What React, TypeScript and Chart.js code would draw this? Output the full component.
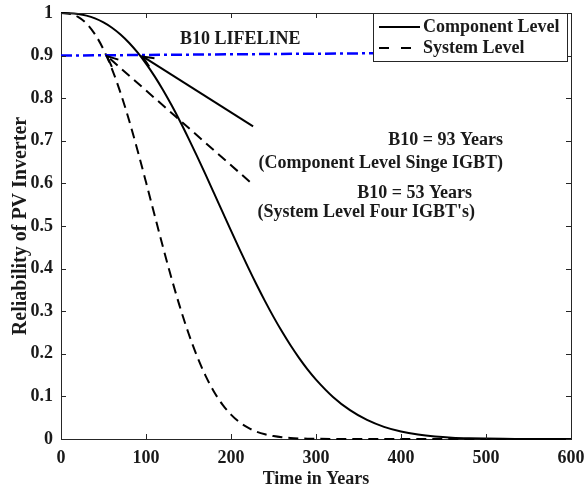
import React, { useEffect, useRef } from 'react';
import { Chart, registerables } from 'chart.js';

Chart.register(...registerables);

// ---- data ----
const years = [
  0, 10, 20, 30, 40, 50, 60, 70, 80, 90, 100, 110, 120, 130, 140, 150, 160, 170, 180, 190, 200,
  210, 220, 230, 240, 250, 260, 270, 280, 290, 300, 320, 340, 360, 380, 400, 420, 440, 460, 480,
  500, 520, 540, 560, 580, 600,
];
const componentLevel = [
  1, 0.9996, 0.9977, 0.9938, 0.9873, 0.9779, 0.9654, 0.9495, 0.9302, 0.9074, 0.8812, 0.8518,
  0.8192, 0.7838, 0.7459, 0.7058, 0.6641, 0.621, 0.5772, 0.5331, 0.4891, 0.4458, 0.4035, 0.3627,
  0.3237, 0.2867, 0.2521, 0.2199, 0.1904, 0.1635, 0.1394, 0.0987, 0.0676, 0.0447, 0.0285, 0.0175,
  0.0104, 0.0059, 0.0032, 0.0017, 0.0009, 0.0004, 0.0002, 0.0001, 0.00004, 0.00002,
];
const systemLevel = [
  1, 0.9984, 0.991, 0.9754, 0.9501, 0.9145, 0.8685, 0.8128, 0.7487, 0.678, 0.6031, 0.5264,
  0.4503, 0.3774, 0.3095, 0.2482, 0.1945, 0.1487, 0.111, 0.0808, 0.0572, 0.0395, 0.0265, 0.0173,
  0.011, 0.0068, 0.004, 0.0023, 0.0013, 0.0007, 0.0004, 0.0001, 0, 0, 0, 0, 0, 0, 0, 0, 0, 0, 0,
  0, 0, 0,
];
const b10LineX = [0, 369];
const b10LineY = [0.9, 0.9055];
const componentArrowX = [226, 96];
const componentArrowY = [0.734, 0.898];
const systemArrowX = [222, 54];
const systemArrowY = [0.604, 0.899];

const xTickValues = [0, 100, 200, 300, 400, 500, 600];
const yTickValues = [0, 0.1, 0.2, 0.3, 0.4, 0.5, 0.6, 0.7, 0.8, 0.9, 1];

const legendLabels = ['Component Level', 'System Level'];
const annotationTexts = [
  'B10 LIFELINE',
  'B10 = 93 Years',
  '(Component Level Singe IGBT)',
  'B10 = 53 Years',
  "(System Level Four IGBT's)",
];

const FONT = "'Liberation Serif', 'Times New Roman', serif";
const TEXT = '#1a1a1a';
const AXIS = '#262626';

function pts(xs: number[], ys: number[]) {
  return xs.map((x, i) => ({ x, y: ys[i] }));
}

const decorPlugin = {
  id: 'decor',
  afterDraw(chart: any) {
    const ctx = chart.ctx as CanvasRenderingContext2D;
    const xs = chart.scales.x;
    const ys = chart.scales.y;
    const { left, right, top, bottom } = chart.chartArea;
    ctx.save();

    // box + inward ticks
    ctx.strokeStyle = AXIS;
    ctx.lineWidth = 1;
    ctx.setLineDash([]);
    ctx.beginPath();
    ctx.moveTo(left, top + 0.5);
    ctx.lineTo(right + 0.5, top + 0.5);
    ctx.lineTo(right + 0.5, bottom);
    ctx.stroke();
    const tl = 5;
    ctx.beginPath();
    xTickValues.forEach((v) => {
      const px = Math.round(xs.getPixelForValue(v)) + 0.5;
      ctx.moveTo(px, bottom);
      ctx.lineTo(px, bottom - tl);
      ctx.moveTo(px, top);
      ctx.lineTo(px, top + tl);
    });
    yTickValues.forEach((v) => {
      const py = Math.round(ys.getPixelForValue(v)) + 0.5;
      ctx.moveTo(left, py);
      ctx.lineTo(left + tl, py);
      ctx.moveTo(right, py);
      ctx.lineTo(right - tl, py);
    });
    ctx.stroke();

    // arrowheads
    const head = (xArr: number[], yArr: number[]) => {
      const x0 = xs.getPixelForValue(xArr[0]);
      const y0 = ys.getPixelForValue(yArr[0]);
      const x1 = xs.getPixelForValue(xArr[1]);
      const y1 = ys.getPixelForValue(yArr[1]);
      const ang = Math.atan2(y0 - y1, x0 - x1);
      const len = 12;
      const spread = 0.42;
      ctx.strokeStyle = '#000';
      ctx.lineWidth = 2;
      ctx.setLineDash([]);
      ctx.beginPath();
      ctx.moveTo(x1 + len * Math.cos(ang + spread), y1 + len * Math.sin(ang + spread));
      ctx.lineTo(x1, y1);
      ctx.lineTo(x1 + len * Math.cos(ang - spread), y1 + len * Math.sin(ang - spread));
      ctx.stroke();
    };
    head(componentArrowX, componentArrowY);
    head(systemArrowX, systemArrowY);

    // annotation texts
    ctx.fillStyle = TEXT;
    ctx.font = `bold 18px ${FONT}`;
    ctx.textBaseline = 'middle';
    const txt = (s: string, xv: number, yv: number, align: CanvasTextAlign) => {
      ctx.textAlign = align;
      ctx.fillText(s, xs.getPixelForValue(xv), ys.getPixelForValue(yv));
    };
    txt(annotationTexts[0], 140, 0.937, 'left');
    txt(annotationTexts[1], 520, 0.702, 'right');
    txt(annotationTexts[2], 520, 0.648, 'right');
    txt(annotationTexts[3], 483.5, 0.577, 'right');
    txt(annotationTexts[4], 487, 0.531, 'right');

    // legend
    const lx = right - 198;
    const ly = top;
    const lw = 194;
    const lh = 48;
    ctx.fillStyle = '#fff';
    ctx.fillRect(lx, ly, lw, lh);
    ctx.strokeStyle = AXIS;
    ctx.lineWidth = 1;
    ctx.strokeRect(Math.round(lx) + 0.5, Math.round(ly) + 0.5, lw, lh);
    const rows = [ly + 14, ly + 35];
    rows.forEach((ry, i) => {
      ctx.strokeStyle = '#000';
      ctx.lineWidth = 2;
      ctx.setLineDash(i === 0 ? [] : [10, 12]);
      ctx.beginPath();
      ctx.moveTo(lx + 6, ry);
      ctx.lineTo(lx + 47, ry);
      ctx.stroke();
      ctx.setLineDash([]);
      ctx.fillStyle = TEXT;
      ctx.textAlign = 'left';
      ctx.fillText(legendLabels[i], lx + 50, ry);
    });
    ctx.restore();
  },
};

export default function App() {
  const ref = useRef<HTMLCanvasElement | null>(null);
  useEffect(() => {
    if (!ref.current) return;
    const chart = new Chart(ref.current, {
      type: 'line',
      data: {
        datasets: [
          {
            label: 'B10 LIFELINE',
            data: pts(b10LineX, b10LineY),
            borderColor: '#0000ff',
            borderWidth: 2.5,
            borderDash: [11, 4, 3, 4],
            pointRadius: 0,
            tension: 0,
          },
          {
            label: legendLabels[0],
            data: pts(years, componentLevel),
            borderColor: '#000',
            borderWidth: 2,
            pointRadius: 0,
            cubicInterpolationMode: 'monotone',
          },
          {
            label: legendLabels[1],
            data: pts(years, systemLevel),
            borderColor: '#000',
            borderWidth: 2,
            borderDash: [10, 6],
            pointRadius: 0,
            cubicInterpolationMode: 'monotone',
          },
          {
            label: 'arrow1',
            data: pts(componentArrowX, componentArrowY),
            borderColor: '#000',
            borderWidth: 2,
            pointRadius: 0,
            tension: 0,
          },
          {
            label: 'arrow2',
            data: pts(systemArrowX, systemArrowY),
            borderColor: '#000',
            borderWidth: 2,
            borderDash: [10, 6],
            pointRadius: 0,
            tension: 0,
          },
        ],
      },
      options: {
        responsive: false,
        animation: false,
        devicePixelRatio: 1,
        clip: false as any,
        layout: { padding: { top: 13, right: 13, left: 0, bottom: 0 } },
        plugins: { legend: { display: false }, tooltip: { enabled: false } },
        scales: {
          x: {
            type: 'linear',
            min: 0,
            max: 600,
            afterFit: (s: any) => {
              s.height = 52;
              s.paddingLeft = 0;
              s.paddingRight = 0;
            },
            afterBuildTicks: (s: any) => {
              s.ticks = xTickValues.map((v) => ({ value: v }));
            },
            grid: { display: false, drawTicks: false },
            border: { display: true, color: AXIS, width: 1 },
            ticks: {
              padding: 9,
              color: TEXT,
              font: { family: FONT, size: 18, weight: 'bold' },
              maxRotation: 0,
              callback: (v: any) => String(v),
            },
            title: {
              display: true,
              text: 'Time in Years',
              color: TEXT,
              font: { family: FONT, size: 18, weight: 'bold' },
              padding: { top: 0, bottom: 1 },
            },
          },
          y: {
            type: 'linear',
            min: 0,
            max: 1,
            afterFit: (s: any) => {
              s.width = 61;
              s.paddingTop = 0;
              s.paddingBottom = 0;
            },
            afterBuildTicks: (s: any) => {
              s.ticks = yTickValues.map((v) => ({ value: v }));
            },
            grid: { display: false, drawTicks: false },
            border: { display: true, color: AXIS, width: 1 },
            ticks: {
              padding: 8,
              color: TEXT,
              font: { family: FONT, size: 18, weight: 'bold' },
              callback: (v: any) => String(Math.round(Number(v) * 10) / 10),
            },
            title: {
              display: true,
              text: 'Reliability of PV Inverter',
              color: TEXT,
              font: { family: FONT, size: 20, weight: 'bold' },
              padding: { top: 9, bottom: 0 },
            },
          },
        },
      } as any,
      plugins: [decorPlugin],
    });
    return () => chart.destroy();
  }, []);
  return (
    <div style={{ position: 'absolute', left: 0, top: 0, width: 584, height: 491, background: '#fff' }}>
      <canvas ref={ref} width={584} height={491} />
    </div>
  );
}
